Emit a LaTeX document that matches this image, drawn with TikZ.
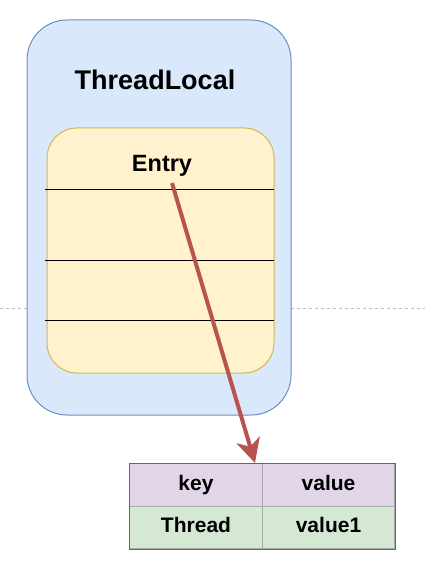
\documentclass[tikz,border=0pt]{standalone}
\usepackage{fontspec}
\setmainfont{Liberation Sans}
\usetikzlibrary{arrows.meta}
\definecolor{tlfill}{HTML}{DAE8FC}
\definecolor{tlline}{HTML}{6C8EBF}
\definecolor{enfill}{HTML}{FFF2CC}
\definecolor{enline}{HTML}{D6B656}
\definecolor{arrowc}{HTML}{B85450}
\definecolor{keyfill}{HTML}{E1D5E7}
\definecolor{valfill}{HTML}{D5E8D4}
\definecolor{gridc}{HTML}{A9A9A9}
\begin{document}
\begin{tikzpicture}[x=1pt,y=-1pt,
  lbl/.style={font=\bfseries, inner sep=0pt, anchor=center},
  cell/.style={draw=gridc, line width=1pt, minimum width=133pt, minimum height=42.5pt, inner sep=0pt, text height=15pt, text depth=4pt, font=\bfseries\fontsize{21}{24}\selectfont, anchor=north west}]
\useasboundingbox (0,0) rectangle (425,561);
% dashed guide
\draw[gray!50, dashed, line width=0.8pt] (0,308) -- (27,308);
\draw[gray!50, dashed, line width=0.8pt] (291,308) -- (425,308);
% ThreadLocal box
\draw[fill=tlfill, draw=tlline, line width=1pt, rounded corners=40pt] (27,20) rectangle (291,415);
\node[lbl, font=\bfseries\fontsize{27}{30}\selectfont] (tl) at (155,80) {ThreadLocal};
% Entry box
\draw[fill=enfill, draw=enline, line width=1pt, rounded corners=30pt] (47,128) rectangle (274,373);
\node[lbl, font=\bfseries\fontsize{23.5}{26}\selectfont, text height=17pt, text depth=5pt] (entry) at (162,166) {Entry};
\draw[black, line width=1pt] (45,190) -- (274,190);
\draw[black, line width=1pt] (45,260) -- (274,260);
\draw[black, line width=1pt] (45,320) -- (274,320);
% table
\node[cell, fill=keyfill] (key) at (129,463) {key};
\node[cell, fill=keyfill, minimum width=132pt] (val) at (262,463) {value};
\node[cell, fill=valfill] (thr) at (129,505.5) {Thread};
\node[cell, fill=valfill, minimum width=132pt] (val1) at (262,505.5) {value1};
\draw[gray!80!black, line width=1pt] (key.north west) rectangle (val1.south east);
% arrow
\coordinate (start) at (172,183);
\draw[arrowc, line width=4pt, -{Stealth[length=24pt,width=24pt,inset=7pt]}] (start) -- ([xshift=-8pt]key.north east);
\end{tikzpicture}
\end{document}
